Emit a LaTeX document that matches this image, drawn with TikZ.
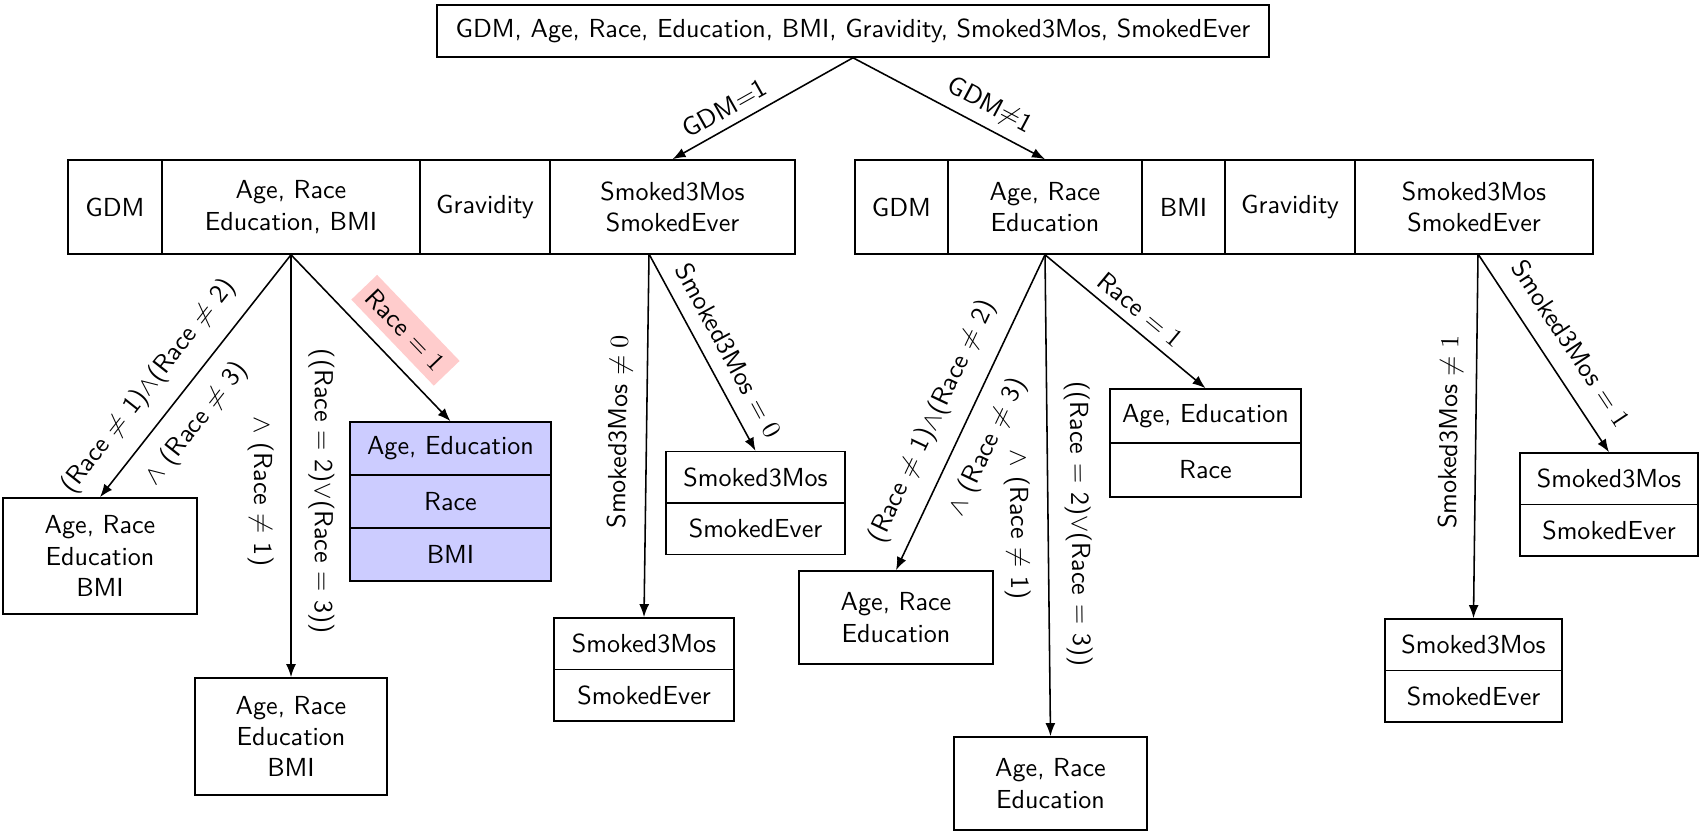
\documentclass[tikz,border=0pt]{standalone}
\usetikzlibrary{arrows.meta}
\begin{document}
\begin{tikzpicture}[x=0.3833pt, y=-0.3833pt, font=\sffamily,
  cell/.style={draw, line width=0.6pt, align=center, inner sep=0pt},
  sz/.style 2 args={minimum width=#1*0.3833pt, minimum height=#2*0.3833pt},
  hilite/.style={fill=blue!20},
  arr/.style={line width=0.6pt, -{Latex[length=5pt,width=3.8pt]}},
  lbl/.style={sloped, inner sep=3.33pt},
  pinklbl/.style={fill=red!20}]
\useasboundingbox (0,0) rectangle (1700,832);

% root
\node[cell, sz={832}{52}] (root) at (853,31)
  {GDM, Age, Race, Education, BMI, Gravidity, Smoked3Mos, SmokedEver};

% GDM = 1 branch
\node[cell, sz={94}{94}]  (lgdm)  at (115,207)   {GDM};
\node[cell, sz={258}{94}] (lage)  at (291,207)   {Age, Race\\Education, BMI};
\node[cell, sz={130}{94}] (lgrav) at (485,207)   {Gravidity};
\node[cell, sz={245}{94}] (lsmk)  at (672.5,207) {Smoked3Mos\\SmokedEver};

% GDM != 1 branch
\node[cell, sz={93}{94}]  (rgdm)  at (901.5,207)  {GDM};
\node[cell, sz={194}{94}] (rage)  at (1045,207)   {Age, Race\\Education};
\node[cell, sz={83}{94}]  (rbmi)  at (1183.5,207) {BMI};
\node[cell, sz={130}{94}] (rgrav) at (1290,207)   {Gravidity};
\node[cell, sz={238}{94}] (rsmk)  at (1474,207)   {Smoked3Mos\\SmokedEver};

\coordinate (lso) at (649,254);
\coordinate (rso) at (1478,254);

% leaves under the left block
\node[cell, sz={194}{116}] (la) at (100,556)   {Age, Race\\Education\\BMI};
\node[cell, sz={192}{117}] (lb) at (291,736.5) {Age, Race\\Education\\BMI};
\node[cell, hilite, sz={201}{53}] (lc1) at (450.5,448.5) {Age, Education};
\node[cell, hilite, sz={201}{53}] (lc2) at (450.5,501.5) {Race};
\node[cell, hilite, sz={201}{53}] (lc3) at (450.5,554.5) {BMI};
\node[cell, sz={179}{51.5}] (ld1) at (755.5,477.25) {Smoked3Mos};
\node[cell, sz={179}{51.5}] (ld2) at (755.5,528.75) {SmokedEver};
\node[cell, sz={180}{51.5}] (le1) at (644,643.75)   {Smoked3Mos};
\node[cell, sz={180}{51.5}] (le2) at (644,695.25)   {SmokedEver};

% leaves under the right block
\node[cell, sz={194}{93}] (rf) at (896,617.5)    {Age, Race\\Education};
\node[cell, sz={193}{93}] (rg) at (1050.5,783.5) {Age, Race\\Education};
\node[cell, sz={191}{54}] (rh1) at (1205.5,416) {Age, Education};
\node[cell, sz={191}{54}] (rh2) at (1205.5,470) {Race};
\node[cell, sz={177}{51.5}] (ri1) at (1473.5,644.75) {Smoked3Mos};
\node[cell, sz={177}{51.5}] (ri2) at (1473.5,696.25) {SmokedEver};
\node[cell, sz={178}{51.5}] (rj1) at (1609,478.75) {Smoked3Mos};
\node[cell, sz={178}{51.5}] (rj2) at (1609,530.25) {SmokedEver};

% first split
\draw[arr] (root.south) -- node[lbl, above, pos=0.66] {GDM$=$1} (lsmk.north);
\draw[arr] (root.south) -- node[lbl, above, pos=0.66] {GDM$\neq$1} (rage.north);

% left block: race splits
\draw[arr] (lage.south) --
  node[lbl, above=3pt, pos=0.62] {(Race $\neq$ 1)$\wedge$(Race $\neq$ 2)}
  node[lbl, below=3pt, pos=0.62] {$\wedge$ (Race $\neq$ 3)} (la.north);
\draw[arr] (lage.south) --
  node[lbl, above=3pt, pos=0.56] {((Race $=$ 2)$\vee$(Race $=$ 3))}
  node[lbl, below=3pt, pos=0.56] {$\wedge$ (Race $\neq$ 1)} (lb.north);
\draw[arr] (lage.south) --
  node[lbl, pinklbl, above=4.5pt, pos=0.58] {Race $= 1$} (lc1.north);

% left block: smoking splits
\draw[arr] (lso) -- node[lbl, above=2pt, pos=0.49] {Smoked3Mos $\neq 0$} (le1.north);
\draw[arr] (lso) -- node[lbl, above=2pt, pos=0.55] {Smoked3Mos $= 0$} (ld1.north);

% right block: race splits
\draw[arr] (rage.south) --
  node[lbl, above=3pt, pos=0.57] {(Race $\neq$ 1)$\wedge$(Race $\neq$ 2)}
  node[lbl, below=3pt, pos=0.57] {$\wedge$ (Race $\neq$ 3)} (rf.north);
\draw[arr] (rage.south) --
  node[lbl, above=3pt, pos=0.56] {((Race $=$ 2)$\vee$(Race $=$ 3))}
  node[lbl, below=3pt, pos=0.56] {$\wedge$ (Race $\neq$ 1)} (rg.north);
\draw[arr] (rage.south) -- node[lbl, above, pos=0.52] {Race $= 1$} (rh1.north);

% right block: smoking splits
\draw[arr] (rso) -- node[lbl, above=1.5pt, pos=0.49] {Smoked3Mos $\neq 1$} (ri1.north);
\draw[arr] (rso) -- node[lbl, above=3.5pt, pos=0.53] {Smoked3Mos $= 1$} (rj1.north);
\end{tikzpicture}
\end{document}
